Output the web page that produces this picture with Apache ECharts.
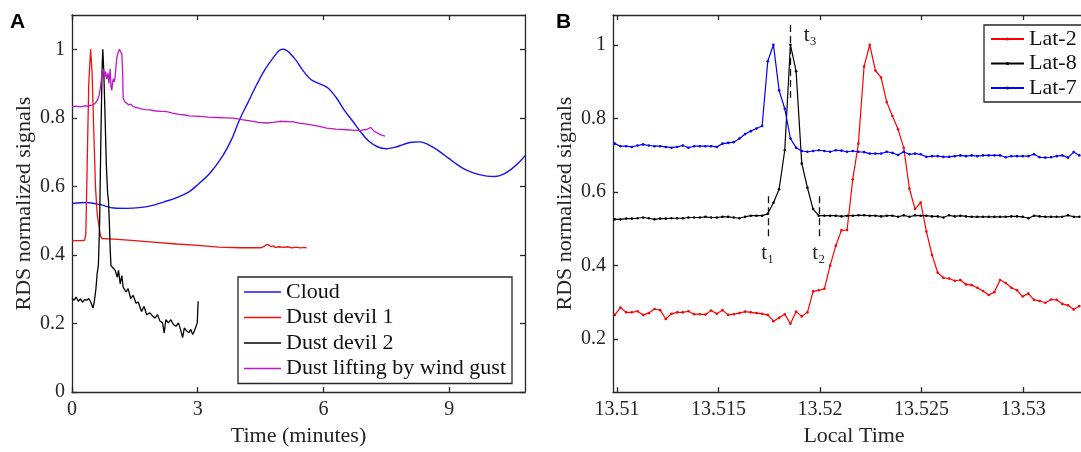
<!DOCTYPE html>
<html><head><meta charset="utf-8">
<script src="https://cdn.jsdelivr.net/npm/echarts@6/dist/echarts.min.js"></script>
<style>html,body{margin:0;padding:0;background:#fff}#c{width:1081px;height:452px}</style>
</head><body><div id="c"></div><script>
// ---------- Panel A data (time in minutes) ----------
const namesA = ['Cloud', 'Dust devil 1', 'Dust devil 2', 'Dust lifting by wind gust'];
const cloudT = [0,0.35,0.7,1.0,1.3,1.6,1.9,2.2,2.5,2.8,3.0,3.3,3.6,3.8,4.0,4.2,4.4,4.6,4.8,4.95,5.05,5.3,5.5,5.7,5.9,6.1,6.3,6.5,6.7,6.9,7.1,7.3,7.5,7.7,7.9,8.1,8.3,8.5,8.7,8.9,9.1,9.3,9.5,9.7,9.9,10.1,10.3,10.5,10.7,10.81];
const cloudV = [0.550,0.553,0.546,0.537,0.536,0.538,0.544,0.555,0.567,0.585,0.605,0.640,0.690,0.735,0.795,0.845,0.895,0.940,0.975,0.997,1.0,0.975,0.940,0.912,0.900,0.888,0.860,0.822,0.790,0.757,0.730,0.715,0.710,0.714,0.722,0.729,0.730,0.722,0.708,0.690,0.672,0.655,0.643,0.635,0.630,0.629,0.636,0.652,0.674,0.690];
const dd1T = [0,0.1,0.2,0.3,0.33,0.36,0.40,0.445,0.48,0.52,0.56,0.60,0.65,0.68,0.72,1.0,1.5,2.0,2.5,3.0,3.5,4.0,4.5,4.6,4.65,4.7,4.75,4.8,4.85,4.95,5.05,5.15,5.25,5.35,5.45,5.55,5.6];
const dd1V = [0.442,0.442,0.442,0.443,0.46,0.65,0.90,1.0,0.93,0.76,0.60,0.52,0.48,0.455,0.448,0.446,0.442,0.437,0.432,0.428,0.423,0.421,0.421,0.426,0.431,0.429,0.424,0.427,0.422,0.424,0.422,0.424,0.421,0.423,0.421,0.422,0.421];
const dd2T = [0,0.05,0.10,0.15,0.20,0.25,0.30,0.35,0.40,0.45,0.50,0.53,0.57,0.60,0.63,0.66,0.69,0.72,0.735,0.76,0.79,0.82,0.85,0.87,0.89,0.91,0.93,0.98,1.03,1.08,1.11,1.15,1.19,1.22,1.29,1.34,1.40,1.46,1.53,1.58,1.66,1.72,1.78,1.86,1.93,1.98,2.04,2.10,2.16,2.20,2.24,2.30,2.36,2.42,2.48,2.54,2.59,2.64,2.68,2.74,2.79,2.83,2.88,2.92,2.96,2.99,3.01];
const dd2V = [0.275,0.268,0.277,0.265,0.272,0.262,0.270,0.268,0.273,0.262,0.245,0.262,0.300,0.345,0.370,0.500,0.750,0.950,1.0,0.930,0.800,0.660,0.580,0.560,0.500,0.420,0.369,0.362,0.355,0.335,0.355,0.316,0.340,0.306,0.292,0.302,0.273,0.282,0.259,0.263,0.235,0.250,0.226,0.231,0.221,0.216,0.226,0.207,0.202,0.173,0.211,0.202,0.211,0.197,0.192,0.202,0.183,0.159,0.187,0.178,0.173,0.183,0.168,0.178,0.183,0.202,0.265];
const gustT = [0,0.1,0.2,0.3,0.4,0.45,0.5,0.55,0.6,0.65,0.68,0.72,0.75,0.78,0.8,0.83,0.86,0.88,0.91,0.93,0.95,0.97,0.99,1.01,1.03,1.05,1.07,1.1,1.13,1.16,1.19,1.21,1.22,1.26,1.3,1.35,1.4,1.46,1.55,1.65,1.75,1.86,2.0,2.15,2.26,2.4,2.55,2.66,2.8,3.05,3.25,3.45,3.65,3.85,4.05,4.25,4.45,4.65,4.8,4.96,5.15,5.28,5.45,5.68,5.9,6.08,6.3,6.47,6.7,6.87,6.95,7.03,7.13,7.18,7.23,7.3,7.35,7.47];
const gustV = [0.833,0.834,0.832,0.835,0.834,0.837,0.838,0.842,0.85,0.866,0.89,0.93,0.943,0.92,0.935,0.914,0.93,0.90,0.943,0.89,0.88,0.905,0.914,0.905,0.92,0.95,0.976,0.99,1.0,0.995,0.986,0.93,0.857,0.847,0.845,0.838,0.840,0.833,0.830,0.826,0.824,0.823,0.820,0.819,0.818,0.814,0.810,0.809,0.806,0.804,0.802,0.801,0.800,0.799,0.795,0.791,0.787,0.785,0.787,0.790,0.789,0.788,0.784,0.780,0.775,0.770,0.767,0.766,0.764,0.763,0.765,0.766,0.772,0.765,0.759,0.755,0.751,0.747];
const ticksAx = [0, 3, 6, 9];
const ticksAy = [0, 0.2, 0.4, 0.6, 0.8, 1];

// ---------- Panel B data (local time, hours) ----------
const namesB = ['Lat-2', 'Lat-8', 'Lat-7'];
const timeB = [13.509890,13.510169,13.510448,13.510727,13.511006,13.511285,13.511564,13.511843,13.512122,13.512401,
13.512680,13.512959,13.513238,13.513517,13.513796,13.514075,13.514354,13.514633,13.514912,13.515191,
13.515470,13.515749,13.516028,13.516307,13.516586,13.516865,13.517144,13.517423,13.517702,13.517981,
13.518260,13.518539,13.518818,13.519097,13.519376,13.519655,13.519934,13.520213,13.520492,13.520771,
13.521050,13.521329,13.521608,13.521887,13.522166,13.522445,13.522724,13.523003,13.523282,13.523561,
13.523840,13.524119,13.524398,13.524677,13.524956,13.525235,13.525514,13.525793,13.526072,13.526351,
13.526630,13.526909,13.527188,13.527467,13.527746,13.528025,13.528304,13.528583,13.528862,13.529141,
13.529420,13.529699,13.529978,13.530257,13.530536,13.530815,13.531094,13.531373,13.531652,13.531931,
13.532210,13.532489,13.532768];
const lat2V = [0.265,0.285,0.272,0.272,0.275,0.265,0.270,0.281,0.278,0.254,
0.268,0.272,0.272,0.275,0.267,0.267,0.266,0.277,0.268,0.278,
0.265,0.267,0.270,0.274,0.272,0.270,0.268,0.265,0.248,0.257,
0.267,0.241,0.274,0.261,0.272,0.329,0.332,0.336,0.399,0.453,
0.495,0.496,0.634,0.731,0.941,1.000,0.930,0.911,0.844,0.806,
0.770,0.720,0.609,0.553,0.571,0.492,0.428,0.380,0.366,0.364,
0.358,0.360,0.348,0.346,0.339,0.330,0.319,0.327,0.360,0.352,
0.339,0.332,0.315,0.323,0.306,0.303,0.298,0.307,0.306,0.295,
0.291,0.280,0.289];
const lat8V = [0.525,0.525,0.527,0.527,0.528,0.530,0.528,0.525,0.527,0.527,
0.528,0.528,0.528,0.530,0.530,0.530,0.532,0.530,0.530,0.532,
0.532,0.530,0.528,0.532,0.535,0.535,0.535,0.540,0.570,0.607,
0.713,1.000,0.928,0.677,0.611,0.553,0.535,0.535,0.535,0.535,
0.533,0.535,0.535,0.536,0.536,0.535,0.535,0.533,0.535,0.535,
0.532,0.536,0.532,0.536,0.535,0.535,0.533,0.533,0.530,0.536,
0.533,0.535,0.533,0.532,0.532,0.532,0.532,0.532,0.532,0.532,
0.533,0.533,0.532,0.528,0.535,0.533,0.532,0.532,0.532,0.532,
0.536,0.532,0.532];
const lat7V = [0.731,0.724,0.724,0.722,0.726,0.729,0.726,0.724,0.724,0.722,
0.720,0.722,0.726,0.720,0.724,0.724,0.724,0.724,0.722,0.731,
0.733,0.735,0.745,0.757,0.765,0.772,0.779,0.955,1.000,0.876,
0.826,0.745,0.720,0.711,0.709,0.711,0.713,0.711,0.709,0.713,
0.712,0.709,0.711,0.709,0.708,0.704,0.704,0.704,0.709,0.706,
0.700,0.709,0.702,0.704,0.702,0.695,0.697,0.697,0.695,0.695,
0.697,0.699,0.697,0.699,0.697,0.699,0.699,0.699,0.699,0.694,
0.697,0.697,0.697,0.697,0.702,0.694,0.693,0.694,0.697,0.699,
0.693,0.708,0.699];
const ticksBx = [13.51, 13.515, 13.52, 13.525, 13.53];
const ticksBy = [0.2, 0.4, 0.6, 0.8, 1];
// annotation marks t1, t2, t3
const markNames = ['t\u2081', 't\u2082', 't\u2083'];
const markTimes = [13.517423, 13.519934, 13.518539];
const markLow = [0.468, 0.468, 0.856];
const markHigh = [0.588, 0.588, 1.054];
const markLabelPos = [[13.517423, 0.433], [13.519934, 0.433], [13.519514, 1.024]];

// ---------- build ----------
const SERIF = "'Liberation Serif', 'DejaVu Serif', serif";
const AX = '#262626';
const zip = (a, b) => a.map((v, i) => [v, b[i]]);

function axisCommon(extra) {
  return Object.assign({
    type: 'value',
    axisLine: { show: true, onZero: false, lineStyle: { color: AX, width: 1.3 } },
    splitLine: { show: false },
    nameTextStyle: { fontFamily: SERIF, fontSize: 22, color: AX },
  }, extra);
}
function ticks(vals, showLabel, margin) {
  return {
    axisTick: { show: true, inside: true, length: 5, customValues: vals, lineStyle: { color: AX, width: 1.3 } },
    axisLabel: showLabel ? { show: true, customValues: vals, margin: margin, fontFamily: SERIF, fontSize: 20, color: AX } : { show: false }
  };
}

const chart = echarts.init(document.getElementById('c'), null, { renderer: 'canvas' });
const option = {
  animation: false,
  backgroundColor: '#fff',
  grid: [
    { left: 72, top: 15, width: 453, height: 384 },
    { left: 613, top: 15, right: 0, height: 378 }
  ],
  xAxis: [
    axisCommon(Object.assign({ gridIndex: 0, min: 0, max: 10.81, position: 'bottom',
      name: 'Time (minutes)', nameLocation: 'middle', nameGap: 26 }, ticks(ticksAx, true, 8))),
    axisCommon(Object.assign({ gridIndex: 0, min: 0, max: 10.81, position: 'top' }, ticks(ticksAx, false))),
    axisCommon(Object.assign({ gridIndex: 1, min: 13.5098, max: 13.53285, position: 'bottom',
      name: 'Local Time', nameLocation: 'middle', nameGap: 32,
      nameTextStyle: { fontFamily: SERIF, fontSize: 22, color: AX, padding: [0, 0, 0, 14] } }, ticks(ticksBx, true, 8))),
    axisCommon(Object.assign({ gridIndex: 1, min: 13.5098, max: 13.53285, position: 'top' }, ticks(ticksBx, false)))
  ],
  yAxis: [
    axisCommon(Object.assign({ gridIndex: 0, min: 0, max: 1.1, position: 'left',
      name: 'RDS normalized signals', nameLocation: 'middle', nameGap: 37 }, ticks(ticksAy, true, 7))),
    axisCommon(Object.assign({ gridIndex: 0, min: 0, max: 1.1, position: 'right' }, ticks(ticksAy, false))),
    axisCommon(Object.assign({ gridIndex: 1, min: 0.055, max: 1.081, position: 'left',
      name: 'RDS normalized signals', nameLocation: 'middle', nameGap: 37 }, ticks(ticksBy, true, 7)))
  ],
  legend: [
    { data: namesA, orient: 'vertical', left: 238, top: 277, padding: [4, 6, 4, 6],
      icon: 'rect', itemWidth: 37, itemHeight: 1.5, itemGap: 3.5, backgroundColor: '#fff',
      borderColor: AX, borderWidth: 1.3, borderRadius: 0,
      textStyle: { fontFamily: SERIF, fontSize: 22, color: '#111', lineHeight: 22 } },
    { data: namesB, orient: 'vertical', left: 984, top: 25, padding: [3, 6, 3, 6],
      itemWidth: 33, itemHeight: 4, itemGap: 2.5, backgroundColor: '#fff',
      borderColor: AX, borderWidth: 1.3, borderRadius: 0,
      textStyle: { fontFamily: SERIF, fontSize: 22, color: '#111', lineHeight: 22 } }
  ],
  graphic: [
    { type: 'text', left: 10, top: 12, style: { text: 'A', font: 'bold 21px "Liberation Sans", Arial, sans-serif', fill: '#000' } },
    { type: 'text', left: 556, top: 12, style: { text: 'B', font: 'bold 21px "Liberation Sans", Arial, sans-serif', fill: '#000' } }
  ],
  series: [
    { name: namesA[0], type: 'line', xAxisIndex: 0, yAxisIndex: 0, data: zip(cloudT, cloudV), smooth: 0.35,
      symbol: 'none', color: '#1515f0', lineStyle: { width: 1.4 } },
    { name: namesA[1], type: 'line', xAxisIndex: 0, yAxisIndex: 0, data: zip(dd1T, dd1V),
      symbol: 'none', color: '#f01010', lineStyle: { width: 1.3 } },
    { name: namesA[2], type: 'line', xAxisIndex: 0, yAxisIndex: 0, data: zip(dd2T, dd2V),
      symbol: 'none', color: '#000', lineStyle: { width: 1.3 } },
    { name: namesA[3], type: 'line', xAxisIndex: 0, yAxisIndex: 0, data: zip(gustT, gustV),
      symbol: 'none', color: '#c015c8', lineStyle: { width: 1.3 } },
    { name: namesB[0], type: 'line', xAxisIndex: 2, yAxisIndex: 2, data: zip(timeB, lat2V),
      symbol: 'circle', symbolSize: 2.6, color: '#ff0000', lineStyle: { width: 1.2 } },
    { name: namesB[1], type: 'line', xAxisIndex: 2, yAxisIndex: 2, data: zip(timeB, lat8V),
      symbol: 'circle', symbolSize: 2.6, color: '#000', lineStyle: { width: 1.2 },
      markLine: { silent: true, symbol: ['none', 'none'], animation: false,
        lineStyle: { type: [7, 4], color: '#111', width: 1.3 }, label: { show: false },
        data: markTimes.map((t, i) => [{ coord: [t, markHigh[i]] }, { coord: [t, markLow[i]] }]) },
      markPoint: { silent: true, symbol: 'circle', symbolSize: 0, animation: false,
        label: { show: true, position: 'inside', fontFamily: SERIF, fontSize: 21, color: '#222' },
        data: markLabelPos.map((p, i) => ({ coord: p, value: markNames[i], label: { formatter: markNames[i] } })) } },
    { name: namesB[2], type: 'line', xAxisIndex: 2, yAxisIndex: 2, data: zip(timeB, lat7V),
      symbol: 'circle', symbolSize: 2.6, color: '#0000ff', lineStyle: { width: 1.2 } }
  ]
};
chart.setOption(option);
</script></body></html>
